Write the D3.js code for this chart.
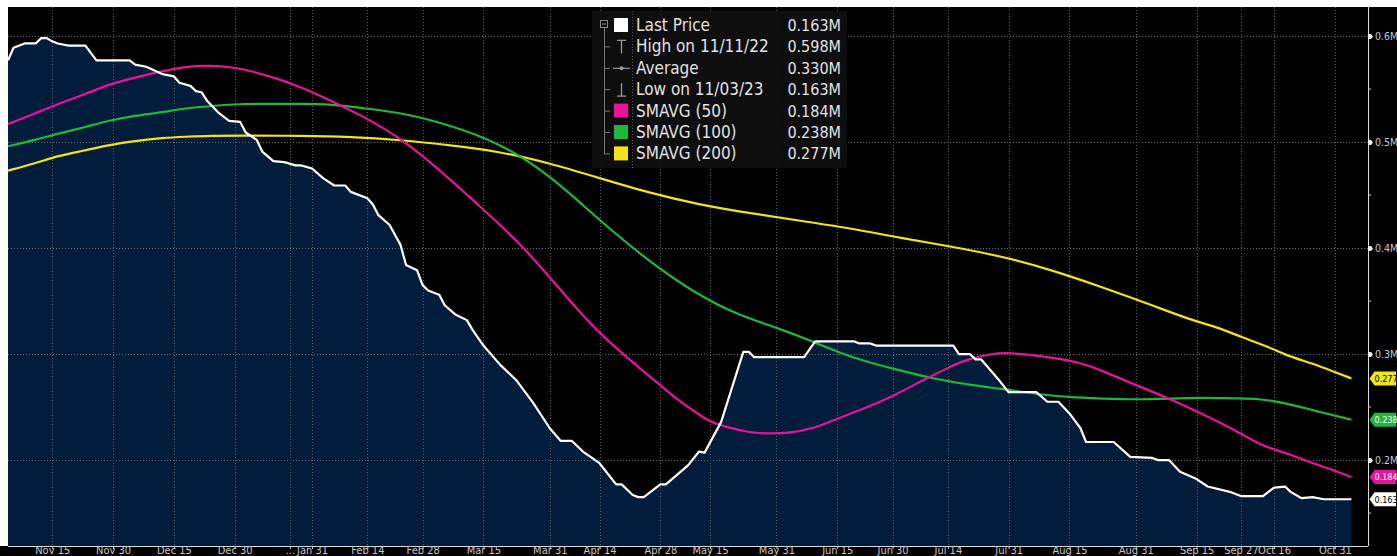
<!DOCTYPE html>
<html><head><meta charset="utf-8">
<script src="https://cdn.jsdelivr.net/npm/d3@7"></script>
<style>
html,body{margin:0;padding:0;background:#000;}
svg{display:block;}
text{font-family:"Liberation Sans Narrow","DejaVu Sans Condensed","Liberation Sans",sans-serif;}
</style></head>
<body>
<script>
// ---- DATA (x = trading session index from first session) ----
const tickSessions = [8,19,30,41,51,55,65,75,86,98,107,118,127,139,150,160,170,181,192,204,215,223,229,240];
const tickLabels = ["Nov 15","Nov 30","Dec 15","Dec 30","...","Jan 31","Feb 14","Feb 28","Mar 15","Mar 31","Apr 14","Apr 28","May 15","May 31","Jun 15","Jun 30","Jul 14","Jul 31","Aug 15","Aug 31","Sep 15","Sep 27","Oct 16","Oct 31"];
const yTicks = [0.2,0.3,0.4,0.5,0.6];
const yMinorTicks = [0.15,0.25,0.35,0.45,0.55];

const priceSessions = [0,1,3,5,6,7,8,9,11,14,16,22,23,25,28,30,31,33,34,35,36,38,40,42,43,45,46,48,50,52,53,55,57,59,61,62,65,66,67,69,71,72,74,75,76,78,79,81,83,84,86,89,92,95,98,100,102,104,107,110,111,113,114,115,118,119,123,125,126,129,131,133,134,135,144,146,153,154,156,157,171,172,174,175,176,178,179,181,186,188,190,192,194,195,200,203,207,208,210,212,215,217,221,223,227,229,231,232,234,236,238,243];
const priceValues = [.577,.589,.593,.593,.598,.598,.595,.593,.591,.591,.577,.577,.573,.571,.564,.562,.556,.553,.548,.547,.539,.528,.520,.519,.509,.502,.491,.482,.481,.478,.478,.475,.466,.459,.459,.453,.447,.441,.431,.422,.403,.384,.379,.365,.360,.356,.346,.337,.332,.323,.308,.290,.275,.254,.230,.218,.218,.208,.197,.177,.177,.167,.165,.165,.177,.177,.195,.208,.207,.236,.269,.302,.302,.297,.297,.312,.312,.310,.310,.308,.308,.300,.300,.295,.295,.283,.277,.264,.264,.255,.255,.244,.230,.217,.217,.203,.202,.200,.200,.189,.182,.175,.170,.166,.166,.174,.175,.170,.164,.165,.163,.163];

const sma50Sessions = [0,4,9,14,18,23,28,32,35,38,41,44,48,53,58,64,71,78,85,93,100,107,117,121,125,127,130,134,137,141,146,150,155,160,165,170,173,178,182,187,192,195,198,203,210,215,219,223,227,231,236,240,243];
const sma50Values = [.517,.525,.536,.545,.554,.561,.567,.571,.572,.572,.570,.567,.561,.552,.540,.525,.504,.474,.441,.403,.360,.318,.275,.257,.243,.236,.231,.226,.225,.225,.230,.239,.249,.260,.274,.287,.294,.301,.301,.298,.294,.290,.284,.273,.258,.246,.236,.225,.213,.207,.197,.190,.184];

const sma100Sessions = [0,5,9,14,18,23,28,32,37,42,47,53,58,64,71,80,89,98,107,116,125,132,139,146,150,155,161,167,175,180,185,192,198,204,210,216,222,226,231,236,243];
const sma100Values = [.496,.502,.508,.514,.520,.525,.528,.532,.534,.536,.536,.536,.536,.532,.528,.516,.499,.469,.426,.387,.355,.337,.325,.311,.302,.293,.285,.277,.270,.267,.263,.259,.258,.257,.258,.259,.258,.258,.254,.247,.238];

const sma200Sessions = [0,5,9,14,18,23,28,32,37,42,53,62,71,80,89,98,107,116,125,134,143,152,161,170,180,189,198,207,214,219,223,228,231,236,240,243];
const sma200Values = [.473,.480,.487,.492,.497,.501,.504,.505,.506,.506,.506,.505,.502,.497,.491,.480,.466,.452,.441,.433,.426,.419,.410,.402,.392,.379,.363,.346,.332,.325,.316,.307,.299,.291,.283,.277];

const legendLabels = ["Last Price","High on 11/11/22","Average","Low on 11/03/23","SMAVG (50)","SMAVG (100)","SMAVG (200)"];
const legendValues = ["0.163M","0.598M","0.330M","0.163M","0.184M","0.238M","0.277M"];
const legendKinds = ["swatch","high","avg","low","swatch","swatch","swatch"];

const tagValues = ["0.277","0.238","0.184","0.163"];

// ---- STYLE ----
const W = 1397, H = 556;
const cPrice = "#ffffff", c50 = "#e8139a", c100 = "#1fb83a", c200 = "#f2e31b";
const areaFill = "#021d3b";
const narrow = '"Liberation Sans Narrow","DejaVu Sans Condensed",sans-serif';

const svg = d3.select("body").append("svg").attr("width", W).attr("height", H);
svg.append("rect").attr("width", W).attr("height", H).attr("fill", "#000");

const x = d3.scaleLinear().domain([0, 246]).range([8, 1368]);
const y = d3.scaleLinear().domain([0.1189, 0.6274]).range([546, 7]);

const zip = (s, v) => s.map((d, i) => ({s: d, v: v[i]}));
const price = zip(priceSessions, priceValues);

// area
svg.append("path").datum(price)
  .attr("d", d3.area().x(d => x(d.s)).y0(y(y.domain()[0])).y1(d => y(d.v)))
  .attr("fill", areaFill);

// grid
const grid = svg.append("g");
grid.selectAll("line.h").data(yTicks).join("line")
  .attr("x1", x(0)).attr("x2", x(246)).attr("y1", d => Math.round(y(d)) + 0.5).attr("y2", d => Math.round(y(d)) + 0.5)
  .attr("stroke", "#6a6a6a").attr("stroke-width", 1).attr("stroke-dasharray", "1,2");
grid.selectAll("line.v").data(tickSessions).join("line")
  .attr("x1", d => Math.round(x(d)) + 0.5).attr("x2", d => Math.round(x(d)) + 0.5)
  .attr("y1", y.range()[1]).attr("y2", y.range()[0])
  .attr("stroke", "#5a5f66").attr("stroke-width", 1).attr("stroke-dasharray", "1,2");

// lines
const lineGen = (curve) => d3.line().x(d => x(d.s)).y(d => y(d.v)).curve(curve);
svg.append("path").datum(zip(sma200Sessions, sma200Values))
  .attr("d", lineGen(d3.curveBasis)).attr("fill", "none").attr("stroke", c200).attr("stroke-width", 2.2);
svg.append("path").datum(zip(sma100Sessions, sma100Values))
  .attr("d", lineGen(d3.curveBasis)).attr("fill", "none").attr("stroke", c100).attr("stroke-width", 2.2);
svg.append("path").datum(zip(sma50Sessions, sma50Values))
  .attr("d", lineGen(d3.curveBasis)).attr("fill", "none").attr("stroke", c50).attr("stroke-width", 2.2);
svg.append("path").datum(price)
  .attr("d", lineGen(d3.curveLinear)).attr("fill", "none").attr("stroke", cPrice).attr("stroke-width", 2.2)
  .attr("stroke-linejoin", "round");

// x axis
const xAxis = svg.append("g").attr("transform", `translate(0,${y.range()[0]})`)
  .call(d3.axisBottom(x).tickValues(tickSessions).tickFormat((d, i) => tickLabels[i]).tickSize(3).tickPadding(0));
xAxis.select(".domain").attr("stroke", "#dcdcdc").attr("d", `M${x(0)},0.5H${x(246)}`);
xAxis.selectAll(".tick line").attr("stroke", "#dcdcdc");
xAxis.selectAll(".tick text").attr("fill", "#c9c9c9").attr("font-size", 11)
  .attr("font-family", narrow).attr("y", 0).attr("dy", 0).attr("transform", "translate(0,7.5)");

// right axis
const yAxis = svg.append("g").attr("transform", `translate(${x(246)},0)`)
  .call(d3.axisRight(y).tickValues(yTicks).tickFormat(d => d.toFixed(1) + "M").tickSize(0).tickPadding(7));
yAxis.select(".domain").attr("stroke", "#dcdcdc").attr("d", `M0.5,${y.range()[1]}V${y.range()[0]}`);
yAxis.selectAll(".tick text").attr("fill", "#c9c9c9").attr("font-size", 10.5).attr("font-family", narrow);
yAxis.selectAll(".tick").append("path").attr("d", "M0,-2.5H3L5,0L3,2.5H0Z").attr("fill", "#eee");
yAxis.selectAll("line.minor").data(yMinorTicks).join("line")
  .attr("x1", 0).attr("x2", 3).attr("y1", d => y(d)).attr("y2", d => y(d)).attr("stroke", "#ccc");

// last value tags
const tagData = [
  {v: sma200Values[sma200Values.length - 1], bg: c200, fg: "#000"},
  {v: sma100Values[sma100Values.length - 1], bg: c100, fg: "#fff"},
  {v: sma50Values[sma50Values.length - 1], bg: c50, fg: "#fff"},
  {v: priceValues[priceValues.length - 1], bg: "#fff", fg: "#000"}
];
const tags = svg.append("g").selectAll("g").data(tagData).join("g")
  .attr("transform", d => `translate(${x(246) + 1.5},${y(d.v)})`);
tags.append("path").attr("d", "M0,0L5,-7H26.5V7H5Z").attr("fill", d => d.bg);
tags.append("text").attr("x", 5).attr("y", 3.5).attr("font-size", 9).attr("fill", d => d.fg)
  .attr("font-family", narrow)
  .text((d, i) => tagValues[i]);

// legend
const lg = svg.append("g");
lg.append("rect").attr("x", 592).attr("y", 11).attr("width", 255).attr("height", 157)
  .attr("fill", "#0f0f0f").attr("opacity", 0.93);
lg.append("line").attr("x1", 632.5).attr("x2", 632.5).attr("y1", 11).attr("y2", 168)
  .attr("stroke", "#555").attr("stroke-dasharray", "1,2");
lg.append("rect").attr("x", 600.5).attr("y", 20.5).attr("width", 7).attr("height", 7)
  .attr("fill", "none").attr("stroke", "#888");
lg.append("line").attr("x1", 602).attr("x2", 606).attr("y1", 24).attr("y2", 24).attr("stroke", "#888");
const rowY = i => 25 + i * 21.4;
lg.append("line").attr("x1", 604.5).attr("x2", 604.5).attr("y1", 28).attr("y2", rowY(6) + 1).attr("stroke", "#777");
const swatchColors = [cPrice, null, null, null, c50, c100, c200];
const rows = lg.selectAll("g.row").data(legendLabels).join("g").attr("transform", (d, i) => `translate(0,${rowY(i)})`);
rows.filter((d, i) => i > 0).append("line").attr("x1", 604.5).attr("x2", 610).attr("y1", 0.5).attr("y2", 0.5).attr("stroke", "#777");
rows.each(function(d, i) {
  const g = d3.select(this);
  const k = legendKinds[i];
  if (k === "swatch") {
    g.append("rect").attr("x", 614).attr("y", -7).attr("width", 14).attr("height", 14).attr("fill", swatchColors[i]);
  } else if (k === "high") {
    g.append("path").attr("d", "M617,-6H626M621.5,-6V7").attr("stroke", "#999").attr("stroke-width", 1.3).attr("fill", "none");
  } else if (k === "low") {
    g.append("path").attr("d", "M617,7H626M621.5,-6V7").attr("stroke", "#999").attr("stroke-width", 1.3).attr("fill", "none");
  } else if (k === "avg") {
    g.append("path").attr("d", "M613,0.5H630").attr("stroke", "#999").attr("stroke-width", 1.2);
    g.append("circle").attr("cx", 621.5).attr("cy", 0.5).attr("r", 2).attr("fill", "#999");
  }
  g.append("text").attr("x", 636).attr("y", 6).attr("font-size", 17).attr("fill", "#e2e2e2")
    .attr("font-family", '"Liberation Sans","DejaVu Sans",sans-serif').text(d);
  g.append("text").attr("x", 841).attr("y", 6).attr("font-size", 16).attr("text-anchor", "end").attr("fill", "#e2e2e2")
    .attr("font-family", '"Liberation Sans","DejaVu Sans",sans-serif').text(legendValues[i]);
});

// white frame strips (top and left)
svg.append("rect").attr("x", 0).attr("y", 0).attr("width", W).attr("height", 7).attr("fill", "#fff");
svg.append("rect").attr("x", 0).attr("y", 0).attr("width", 8).attr("height", 546).attr("fill", "#fff");
</script>
</body></html>
